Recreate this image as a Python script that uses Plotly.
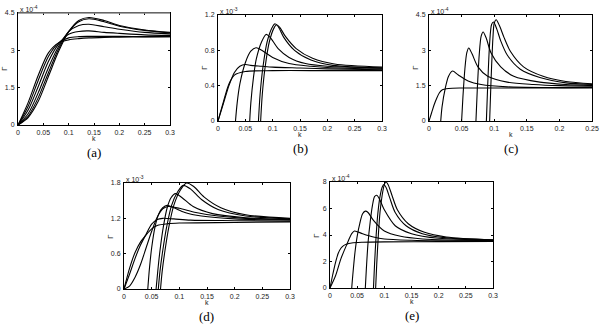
import plotly.graph_objects as go

# ---------------- data (Γ vs k) ----------------
# panel (a): Γ in units of 1e-4
a_k = [0, 0.02, 0.04, 0.06, 0.08, 0.1, 0.12, 0.14, 0.17, 0.2, 0.25, 0.3]
a_g = [
    [0, 0.30, 0.95, 1.95, 2.95, 3.75, 4.20, 4.32, 4.20, 4.00, 3.82, 3.72],
    [0, 0.35, 1.10, 2.10, 3.05, 3.75, 4.15, 4.27, 4.15, 3.97, 3.80, 3.70],
    [0, 0.45, 1.30, 2.30, 3.15, 3.75, 4.00, 4.05, 3.95, 3.85, 3.72, 3.66],
    [0, 0.60, 1.55, 2.55, 3.25, 3.65, 3.76, 3.78, 3.72, 3.68, 3.62, 3.60],
    [0, 0.75, 1.80, 2.75, 3.30, 3.50, 3.55, 3.56, 3.56, 3.56, 3.55, 3.55],
    [0, 0.90, 2.00, 2.90, 3.30, 3.42, 3.47, 3.50, 3.52, 3.53, 3.54, 3.55],
]

# panel (b): Γ in units of 1e-3
b_k = [
    [0, 0.01, 0.02, 0.03, 0.05, 0.1, 0.2, 0.3],
    [0, 0.01, 0.02, 0.03, 0.04, 0.05, 0.06, 0.08, 0.1, 0.15, 0.2, 0.3],
    [0.032, 0.035, 0.04, 0.05, 0.06, 0.07, 0.08, 0.1, 0.13, 0.17, 0.22, 0.3],
    [0.058, 0.06, 0.065, 0.07, 0.08, 0.088, 0.095, 0.11, 0.13, 0.16, 0.2, 0.3],
    [0.074, 0.077, 0.082, 0.09, 0.1, 0.104, 0.11, 0.12, 0.14, 0.17, 0.21, 0.3],
    [0.078, 0.081, 0.086, 0.094, 0.103, 0.107, 0.113, 0.123, 0.143, 0.173, 0.213, 0.3],
]
b_g = [
    [0, 0.22, 0.42, 0.52, 0.56, 0.57, 0.57, 0.57],
    [0, 0.20, 0.40, 0.55, 0.62, 0.64, 0.63, 0.62, 0.61, 0.60, 0.59, 0.58],
    [0, 0.20, 0.42, 0.66, 0.79, 0.83, 0.80, 0.72, 0.65, 0.62, 0.60, 0.59],
    [0, 0.20, 0.50, 0.70, 0.90, 0.98, 0.95, 0.82, 0.72, 0.65, 0.62, 0.60],
    [0, 0.30, 0.60, 0.90, 1.07, 1.10, 1.07, 0.95, 0.80, 0.69, 0.63, 0.60],
    [0, 0.30, 0.60, 0.90, 1.06, 1.09, 1.06, 0.96, 0.82, 0.71, 0.645, 0.61],
]

# panel (c): Γ in units of 1e-4
c_k = [
    [0, 0.004, 0.008, 0.012, 0.016, 0.02, 0.03, 0.05, 0.1, 0.25],
    [0.018, 0.02, 0.025, 0.03, 0.036, 0.045, 0.06, 0.08, 0.12, 0.18, 0.25],
    [0.05, 0.052, 0.055, 0.058, 0.061, 0.066, 0.075, 0.09, 0.12, 0.16, 0.2, 0.25],
    [0.072, 0.074, 0.077, 0.08, 0.083, 0.088, 0.095, 0.11, 0.13, 0.17, 0.21, 0.25],
    [0.088, 0.09, 0.093, 0.096, 0.099, 0.104, 0.11, 0.12, 0.14, 0.17, 0.21, 0.25],
    [0.093, 0.095, 0.098, 0.1, 0.103, 0.108, 0.115, 0.125, 0.145, 0.175, 0.21, 0.25],
]
c_g = [
    [0, 0.35, 0.70, 0.98, 1.20, 1.32, 1.38, 1.40, 1.40, 1.40],
    [0, 0.60, 1.40, 1.90, 2.12, 1.95, 1.70, 1.55, 1.45, 1.42, 1.42],
    [0, 1.00, 2.20, 2.90, 3.10, 2.85, 2.30, 1.90, 1.65, 1.55, 1.50, 1.48],
    [0, 1.30, 2.80, 3.60, 3.78, 3.50, 2.90, 2.30, 1.90, 1.65, 1.55, 1.50],
    [0, 1.50, 3.30, 4.10, 4.20, 3.90, 3.40, 2.80, 2.20, 1.85, 1.62, 1.55],
    [0, 1.60, 3.50, 4.15, 4.30, 4.05, 3.55, 2.95, 2.30, 1.90, 1.68, 1.58],
]

# panel (d): Γ in units of 1e-3
d_k = [
    [0, 0.01, 0.02, 0.03, 0.04, 0.05, 0.06, 0.08, 0.1, 0.2, 0.3],
    [0, 0.01, 0.02, 0.03, 0.04, 0.05, 0.06, 0.07, 0.09, 0.12, 0.2, 0.3],
    [0, 0.01, 0.02, 0.03, 0.04, 0.05, 0.06, 0.07, 0.08, 0.1, 0.13, 0.17, 0.22, 0.3],
    [0.043, 0.046, 0.05, 0.056, 0.063, 0.07, 0.078, 0.09, 0.11, 0.14, 0.2, 0.3],
    [0.058, 0.061, 0.065, 0.071, 0.078, 0.085, 0.093, 0.105, 0.125, 0.16, 0.22, 0.3],
    [0.062, 0.065, 0.07, 0.077, 0.086, 0.097, 0.107, 0.12, 0.14, 0.17, 0.22, 0.3],
    [0.066, 0.069, 0.074, 0.081, 0.09, 0.102, 0.113, 0.126, 0.145, 0.175, 0.22, 0.3],
]
d_g = [
    [0, 0.35, 0.62, 0.80, 0.92, 1.02, 1.08, 1.11, 1.12, 1.13, 1.14],
    [0, 0.25, 0.52, 0.75, 0.93, 1.10, 1.18, 1.20, 1.19, 1.17, 1.16, 1.15],
    [0, 0.05, 0.20, 0.42, 0.70, 0.98, 1.22, 1.36, 1.40, 1.37, 1.30, 1.24, 1.20, 1.18],
    [0, 0.35, 0.70, 1.05, 1.28, 1.38, 1.42, 1.38, 1.30, 1.24, 1.19, 1.17],
    [0, 0.30, 0.65, 1.05, 1.38, 1.55, 1.62, 1.55, 1.40, 1.28, 1.21, 1.18],
    [0, 0.30, 0.65, 1.05, 1.42, 1.65, 1.76, 1.70, 1.52, 1.35, 1.24, 1.19],
    [0, 0.30, 0.65, 1.05, 1.42, 1.68, 1.80, 1.74, 1.56, 1.38, 1.26, 1.20],
]

# panel (e): Γ in units of 1e-4
e_k = [
    [0, 0.005, 0.01, 0.015, 0.02, 0.025, 0.03, 0.04, 0.06, 0.1, 0.2, 0.3],
    [0, 0.01, 0.02, 0.03, 0.04, 0.045, 0.05, 0.06, 0.08, 0.1, 0.15, 0.2, 0.3],
    [0.04, 0.042, 0.046, 0.05, 0.055, 0.06, 0.065, 0.07, 0.08, 0.1, 0.13, 0.17, 0.22, 0.3],
    [0.065, 0.067, 0.07, 0.074, 0.078, 0.082, 0.086, 0.09, 0.1, 0.12, 0.15, 0.2, 0.3],
    [0.08, 0.082, 0.085, 0.088, 0.092, 0.096, 0.099, 0.103, 0.11, 0.12, 0.14, 0.17, 0.21, 0.3],
    [0.084, 0.086, 0.089, 0.092, 0.096, 0.1, 0.103, 0.107, 0.114, 0.124, 0.144, 0.174, 0.214, 0.3],
]
e_g = [
    [0, 1.00, 1.90, 2.60, 3.00, 3.20, 3.30, 3.40, 3.45, 3.48, 3.50, 3.52],
    [0, 0.90, 2.20, 3.20, 4.10, 4.30, 4.25, 4.10, 3.85, 3.70, 3.60, 3.56, 3.55],
    [0, 1.00, 2.70, 3.90, 4.90, 5.60, 5.80, 5.70, 5.10, 4.30, 3.90, 3.70, 3.62, 3.58],
    [0, 1.50, 3.40, 5.00, 6.20, 6.90, 7.00, 6.80, 5.90, 4.70, 4.10, 3.75, 3.60],
    [0, 1.80, 4.00, 5.60, 6.90, 7.60, 7.80, 7.60, 6.80, 5.70, 4.70, 4.10, 3.80, 3.62],
    [0, 1.80, 4.00, 5.70, 7.00, 7.80, 8.00, 7.80, 7.00, 5.90, 4.85, 4.20, 3.85, 3.64],
]

# ---------------- layout helpers ----------------
W, H = 600, 324
panels = [
    dict(ks=[a_k] * len(a_g), gs=a_g, box=(18, 170, 13, 125), xr=0.3,
         xt=[0, 0.05, 0.1, 0.15, 0.2, 0.25, 0.3], yr=4.5, yt=[0, 1.5, 3, 4.5],
         yl=["0", "1.5", "3", "4.5"], exp="-4", cap="(a)"),
    dict(ks=b_k, gs=b_g, box=(218, 382, 15, 121), xr=0.3,
         xt=[0, 0.05, 0.1, 0.15, 0.2, 0.25, 0.3], yr=1.2, yt=[0, 0.4, 0.8, 1.2],
         yl=["0", "0.4", "0.8", "1.2"], exp="-3", cap="(b)"),
    dict(ks=c_k, gs=c_g, box=(429, 592, 15, 121), xr=0.25,
         xt=[0, 0.05, 0.1, 0.15, 0.2, 0.25], yr=4.5, yt=[0, 1.5, 3, 4.5],
         yl=["0", "1.5", "3", "4.5"], exp="-4", cap="(c)"),
    dict(ks=d_k, gs=d_g, box=(124, 290, 183, 289), xr=0.3,
         xt=[0, 0.05, 0.1, 0.15, 0.2, 0.25, 0.3], yr=1.8, yt=[0, 0.6, 1.2, 1.8],
         yl=["0", "0.6", "1.2", "1.8"], exp="-3", cap="(d)"),
    dict(ks=e_k, gs=e_g, box=(330, 493, 182, 288), xr=0.3,
         xt=[0, 0.05, 0.1, 0.15, 0.2, 0.25, 0.3], yr=8, yt=[0, 2, 4, 6, 8],
         yl=["0", "2", "4", "6", "8"], exp="-4", cap="(e)"),
]

fig = go.Figure()
annotations = []
shapes = []
layout = dict(width=W, height=H, margin=dict(l=0, r=0, t=0, b=0, autoexpand=False),
              paper_bgcolor="white", plot_bgcolor="white", showlegend=False)
tickfont = dict(family="Liberation Sans, Arial", size=7, color="#222")
smallfont = dict(family="Liberation Sans, Arial", size=7, color="#222")

for i, p in enumerate(panels):
    n = i + 1
    xa = "x" if n == 1 else "x%d" % n
    ya = "y" if n == 1 else "y%d" % n
    x0, x1, y0, y1 = p["box"]
    for kk, gg in zip(p["ks"], p["gs"]):
        fig.add_trace(go.Scatter(x=kk, y=gg, mode="lines", xaxis=xa, yaxis=ya,
                                 line=dict(color="black", width=1.1, shape="spline", smoothing=0.8),
                                 hoverinfo="skip"))
    axkey = "xaxis" if n == 1 else "xaxis%d" % n
    aykey = "yaxis" if n == 1 else "yaxis%d" % n
    common = dict(showgrid=False, zeroline=False, showline=True, linecolor="black",
                  linewidth=1, mirror="ticks", ticks="inside", ticklen=2,
                  tickcolor="black", tickfont=tickfont, fixedrange=True, automargin=False)
    layout[axkey] = dict(domain=[x0 / W, x1 / W], range=[0, p["xr"]], anchor=ya,
                         tickvals=p["xt"], ticktext=["%g" % v for v in p["xt"]],
                         ticklabelstandoff=1, **common)
    layout[aykey] = dict(domain=[1 - y1 / H, 1 - y0 / H], range=[0, p["yr"]], anchor=xa,
                         tickvals=p["yt"], ticktext=p["yl"], ticklabelstandoff=1, **common)
    annotations.append(dict(x=x0 / W, y=1 - y0 / H, xref="paper", yref="paper",
                            xanchor="left", yanchor="bottom", yshift=-2, showarrow=False,
                            text="x 10<sup>%s</sup>" % p["exp"], font=smallfont))
    annotations.append(dict(x=(x0 + x1) / 2 / W, y=1 - (y1 + 8) / H, xref="paper", yref="paper",
                            xanchor="center", yanchor="top", showarrow=False, text="k",
                            font=smallfont))
    annotations.append(dict(x=(x0 - 14) / W, y=1 - (y0 + y1) / 2 / H, xref="paper", yref="paper",
                            xanchor="center", yanchor="middle", showarrow=False, text="Γ",
                            textangle=-90,
                            font=dict(family="Liberation Sans, Arial", size=8, color="#222")))
    annotations.append(dict(x=(x0 + x1) / 2 / W, y=1 - (y1 + 18) / H, xref="paper", yref="paper",
                            xanchor="center", yanchor="top", showarrow=False, text=p["cap"],
                            font=dict(family="Liberation Serif, Times New Roman", size=13,
                                      color="black")))
    if n == 1:
        # the top frame edge of panel (a) is drawn grey in the original
        shapes.append(dict(type="line", xref="x domain", yref="y domain", x0=0, x1=1,
                           y0=1, y1=1, line=dict(color="#888", width=1.6)))

layout["annotations"] = annotations
layout["shapes"] = shapes
fig.update_layout(**layout)
fig.write_html("out.html", config={"displayModeBar": False},
               post_script="document.body.style.margin='0';document.body.style.padding='0';")
